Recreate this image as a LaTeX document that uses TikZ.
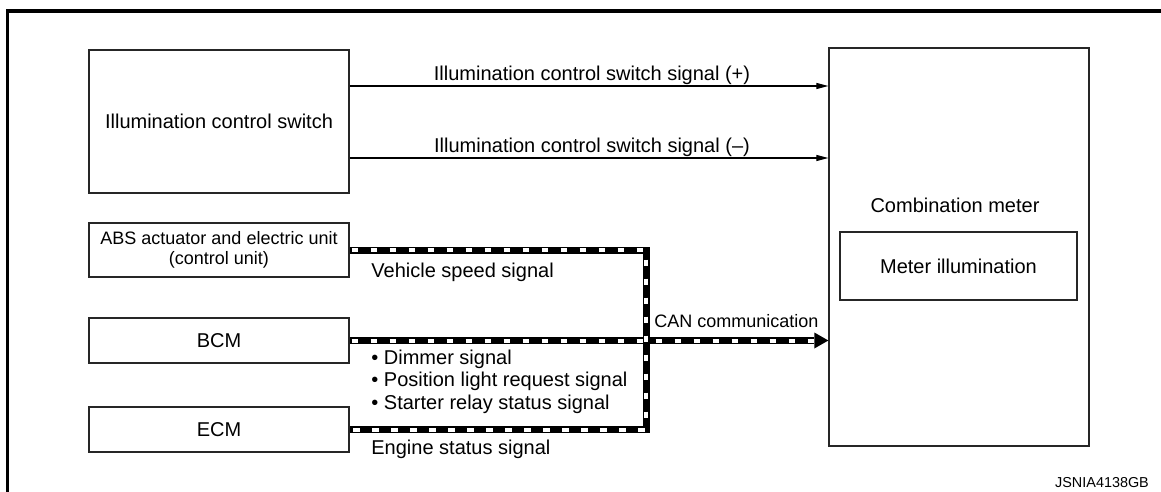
\documentclass[tikz,border=0pt]{standalone}
\usepackage{fontspec}
\setmainfont{Liberation Sans}
\usetikzlibrary{arrows.meta}
\begin{document}
\begin{tikzpicture}[x=0.5pt,y=-0.5pt,
  box/.style={draw=black!85, line width=0.65pt, inner sep=0pt, font=\fontsize{10}{12}\selectfont},
  lbl/.style={inner sep=0pt, font=\fontsize{10}{11.35}\selectfont},
  sig/.style={line width=0.55pt, -{Triangle[length=6pt,width=3pt]}},
  canblk/.style={line width=3.5pt, line join=miter},
  canwht/.style={white, line width=2pt, dash pattern=on 3.3pt off 6.2pt, dash phase=-1pt},
]
\useasboundingbox (0,0) rectangle (1161,492);
% frame
\draw[line width=1.6pt] (7.5,492) -- (7.5,11) -- (1161,11);

% boxes
\node[box, minimum width=130pt, minimum height=71.5pt] (ics) at (219,121.5) {Illumination control switch};
\node[box, minimum width=130pt, minimum height=27pt, align=center, font=\fontsize{9}{10}\selectfont] (abs) at (219,250) {ABS actuator and electric unit\\(control unit)};
\node[box, minimum width=130pt, minimum height=22.5pt] (bcm) at (219,340.5) {BCM};
\node[box, minimum width=130pt, minimum height=22.5pt] (ecm) at (219,429.5) {ECM};
\node[box, minimum width=130pt, minimum height=199pt] (cm) at (959,247) {};
\node[lbl, anchor=base] (cmt) at (955,212) {Combination meter};
\node[box, minimum width=118.5pt, minimum height=34pt] (mi) at (958.5,266) {Meter illumination};

% switch signals
\coordinate (s1) at ([yshift=17.75pt]ics.east);
\coordinate (s2) at ([yshift=-18.25pt]ics.east);
\draw[sig] (s1) -- (s1 -| cm.west);
\draw[sig] (s2) -- (s2 -| cm.west);
\node[lbl, anchor=base] (l1) at (592,81) {Illumination control switch signal (+)};
\node[lbl, anchor=base] (l2) at (592,152) {Illumination control switch signal (--)};

% CAN communication
\coordinate (jx) at (646,340);
\coordinate (tip) at (bcm.east -| cm.west);
\coordinate (tipw) at ([xshift=-7pt]tip);
\draw[canblk] (abs.east) -| (jx) |- (ecm.east);
\draw[canblk, -{Triangle[length=7pt,width=8pt,line width=0pt]}] (bcm.east) -- (tip);
\draw[canwht] (abs.east) -| (jx) |- (ecm.east);
\draw[canwht] (bcm.east) -- (tipw);

\node[lbl, anchor=base west] (vss) at (371,277) {Vehicle speed signal};
\node[lbl, anchor=base west, font=\fontsize{9}{11}\selectfont] (can) at (654,327) {CAN communication};
\node[lbl, anchor=base west] (b1) at (371,364) {• Dimmer signal};
\node[lbl, anchor=base west] (b2) at (371,386.7) {• Position light request signal};
\node[lbl, anchor=base west] (b3) at (371,409.4) {• Starter relay status signal};
\node[lbl, anchor=base west] (ess) at (371,454) {Engine status signal};

\node[inner sep=0pt, anchor=base, font=\fontsize{7.2}{8}\selectfont] (id) at (1102,487) {JSNIA4138GB};
\end{tikzpicture}
\end{document}
